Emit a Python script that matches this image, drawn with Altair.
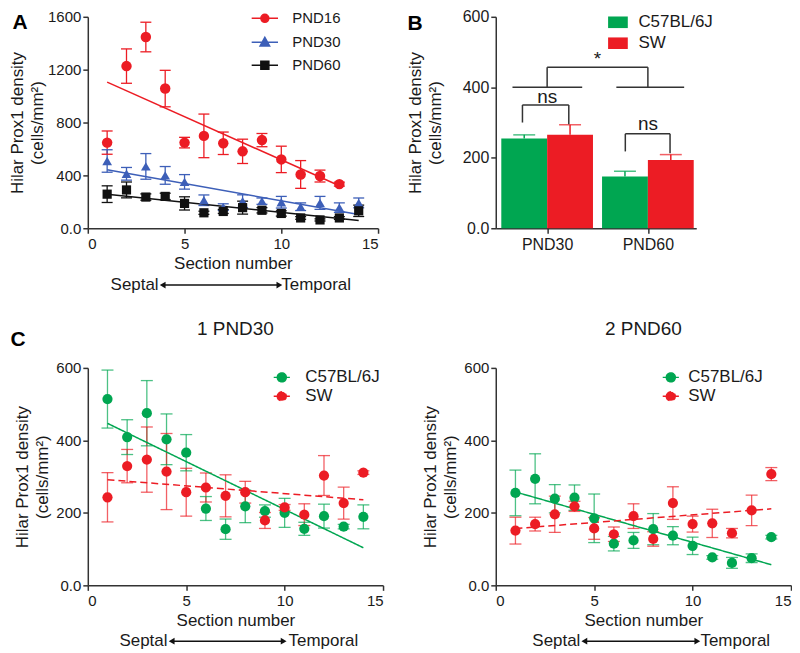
import altair as alt
import pandas as pd

FONT = "Liberation Sans"
TXT = "#1a1a1a"
AXC = "#333333"
RED = "#ec1c24"
GREEN = "#00a651"
BLUE = "#3d5fb8"
BLACK = "#111111"

# ---------------- data ----------------
sections = list(range(1, 15))

a_series = ["PND16", "PND30", "PND60"]
pnd16_mean = [648, 1227, 1447, 1057, 648, 699, 643, 582, 667, 521, 407, 395, 334]
pnd16_sem = [88, 130, 112, 138, 40, 165, 85, 92, 50, 100, 105, 45, 15]
pnd30_mean = [509, 412, 468, 400, 351, 212, 160, 205, 205, 197, 163, 192, 156, 192]
pnd30_sem = [85, 48, 97, 67, 55, 40, 25, 48, 24, 44, 29, 49, 36, 37]
pnd60_mean = [258, 290, 236, 241, 188, 117, 127, 156, 136, 112, 78, 63, 78, 132]
pnd60_sem = [63, 60, 24, 24, 50, 12, 15, 49, 20, 20, 10, 8, 10, 43]

b_groups = ["PND30", "PND60"]
b_strains = ["C57BL/6J", "SW"]
b_c57_mean = [255, 147]
b_c57_sem = [10, 15]
b_sw_mean = [265, 194]
b_sw_sem = [29, 15]

# significance annotations of panel B (data units)
b_br_x = [0.656, 1.687, 1.0, 2.0, 1.0, 0.755, 1.215, 0.755, 1.776, 2.22, 1.776]
b_br_x2 = [1.348, 2.36, 1.0, 2.0, 2.0, 0.755, 1.215, 1.215, 1.776, 2.22, 2.22]
b_br_y = [400, 400, 400, 400, 457, 300, 295, 350, 218, 213, 268]
b_br_y2 = [400, 400, 457, 457, 457, 350, 350, 350, 268, 268, 268]
b_sig_x = [1.0, 2.0, 1.5]
b_sig_y = [373, 296, 480]
b_sig_text = ["ns", "ns", "*"]

c_strains = ["C57BL/6J", "SW"]
c1_c57_mean = [514, 409, 475, 403, 366, 212, 155, 218, 205, 200, 156, 191, 162, 189]
c1_c57_sem = [80, 48, 90, 70, 50, 33, 28, 45, 17, 40, 18, 33, 6, 33]
c1_sw_mean = [243, 329, 347, 314, 257, 270, 247, 257, 179, 215, 195, 303, 227, 311]
c1_sw_sem = [68, 46, 90, 105, 66, 40, 58, 30, 22, 8, 30, 55, 44, 5]
c2_c57_mean = [255, 294, 239, 242, 185, 115, 124, 155, 137, 109, 77, 62, 75, 133]
c2_c57_sem = [63, 69, 39, 35, 67, 20, 22, 43, 25, 24, 5, 15, 12, 5]
c2_sw_mean = [151, 169, 196, 218, 157, 141, 191, 128, 227, 169, 171, 144, 207, 307]
c2_sw_sem = [37, 19, 50, 14, 30, 20, 34, 20, 45, 22, 39, 13, 42, 18]

Y_TITLE = ["Hilar Prox1 density", "(cells/mm²)"]

# ---------------- layout ----------------
W_A, H_A = 291, 212
W_B = 201
W_C, H_C = 296, 218


def long_df(names, means, sems):
    rows = []
    for name, m, s in zip(names, means, sems):
        for i, (mv, sv) in enumerate(zip(m, s)):
            rows.append({"series": name, "section": sections[i], "mean": mv,
                         "sem": sv, "lo": mv - sv, "hi": mv + sv})
    return pd.DataFrame(rows)


def X():
    return alt.X("section:Q",
                 scale=alt.Scale(domain=[0, 15], nice=False, zero=False),
                 axis=alt.Axis(values=[0, 5, 10, 15], title="Section number",
                               titlePadding=4, labelPadding=3))


def Y(field, ymax, step, label_size, title_pad):
    return alt.Y(f"{field}:Q",
                 scale=alt.Scale(domain=[0, ymax], nice=False),
                 axis=alt.Axis(values=list(range(0, ymax + 1, step)), format="d",
                               labelExpr="datum.value == 0 ? '0.0' : datum.label",
                               title=Y_TITLE, titlePadding=title_pad,
                               labelFontSize=label_size, labelPadding=2))


def septal_layers(xdef, H, off, sep_x, arr0, arr1, temp_x):
    yv = alt.value(H + off)
    t1 = alt.Chart(pd.DataFrame({"section": [sep_x], "t": ["Septal"]})).mark_text(
        align="right", baseline="middle", fontSize=17, font=FONT, color=TXT
    ).encode(x=xdef, y=yv, text="t:N")
    t2 = alt.Chart(pd.DataFrame({"section": [temp_x], "t": ["Temporal"]})).mark_text(
        align="left", baseline="middle", fontSize=17, font=FONT, color=TXT
    ).encode(x=xdef, y=yv, text="t:N")
    arrow_df = pd.DataFrame({"section": [arr0], "end": [arr1]})
    r = alt.Chart(arrow_df).mark_rule(color=BLACK, strokeWidth=1.5).encode(
        x=xdef, x2="end:Q", y=yv)
    h1 = alt.Chart(pd.DataFrame({"section": [arr0]})).mark_point(
        shape="triangle-left", filled=True, size=45, color=BLACK, opacity=1
    ).encode(x=xdef, y=yv)
    h2 = alt.Chart(pd.DataFrame({"section": [arr1]})).mark_point(
        shape="triangle-right", filled=True, size=45, color=BLACK, opacity=1
    ).encode(x=xdef, y=yv)
    return [r, h1, h2, t1, t2]


def letter(text, x, y):
    return alt.Chart(pd.DataFrame({"t": [text]})).mark_text(
        fontSize=21, fontWeight="bold", font=FONT, color="#000000",
        align="center", baseline="middle"
    ).encode(x=alt.value(x), y=alt.value(y), text="t:N")


def err_layers(df, xdef, yfun, color_enc, cap, width, opacity):
    stem = alt.Chart(df).mark_rule(strokeWidth=width, opacity=opacity).encode(
        x=xdef, y=yfun("lo"), y2="hi:Q", color=color_enc)
    c1 = alt.Chart(df).mark_tick(orient="horizontal", size=cap, thickness=width,
                                 opacity=opacity).encode(x=xdef, y=yfun("lo"), color=color_enc)
    c2 = alt.Chart(df).mark_tick(orient="horizontal", size=cap, thickness=width,
                                 opacity=opacity).encode(x=xdef, y=yfun("hi"), color=color_enc)
    return [stem, c1, c2]


# ---------------- panel A ----------------
dfA = long_df(a_series, [pnd16_mean, pnd30_mean, pnd60_mean],
              [pnd16_sem, pnd30_sem, pnd60_sem])
colA = alt.Color("series:N", scale=alt.Scale(domain=a_series, range=[RED, BLUE, BLACK]),
                 legend=None)
xA = X()


def yA(f):
    return Y(f, 1600, 400, 15, 1)


regA = alt.Chart(dfA).transform_regression(
    "section", "mean", groupby=["series"]
).mark_line(strokeWidth=1.5).encode(x=xA, y=yA("mean"), color=colA)

shapesA = ["circle", "triangle-up", "square"]
sizesA = [110, 95, 85]
ptsA = [
    alt.Chart(dfA).transform_filter(alt.datum.series == s).mark_point(
        filled=True, opacity=1, shape=sh, size=sz
    ).encode(x=xA, y=yA("mean"), color=colA)
    for s, sh, sz in zip(a_series, shapesA, sizesA)
]

legA_def = alt.Legend(
    orient="none", legendX=170, legendY=-6, title=None, padding=0,
    labelFont=FONT, labelFontSize=15, labelColor=TXT, labelOffset=20,
    symbolSize=64, symbolStrokeWidth=1.5, symbolOpacity=1, rowPadding=7,
)
paths = {
    "circle": "M-3.3,0H3.3M-1,0A1,1,0,1,1,1,0A1,1,0,1,1,-1,0Z",
    "tri": "M-3.3,0H3.3M0,-1.25L1.2,0.95H-1.2Z",
    "sq": "M-3.3,0H3.3M-1,-1H1V1H-1Z",
}
# legend-only layer: no marks are drawn (all rows filtered out), the scales give the legend
legA = alt.Chart(pd.DataFrame({"series": a_series})).transform_filter("false").mark_point(
    filled=True).encode(
    fill=alt.Fill("series:N", scale=alt.Scale(domain=a_series, range=[RED, BLUE, BLACK]),
                  legend=legA_def),
    stroke=alt.Stroke("series:N", scale=alt.Scale(domain=a_series, range=[RED, BLUE, BLACK]),
                      legend=legA_def),
    shape=alt.Shape("series:N", scale=alt.Scale(domain=a_series,
                                                range=[paths["circle"], paths["tri"], paths["sq"]]),
                    legend=legA_def),
)

panelA = alt.layer(
    legA,
    *err_layers(dfA, xA, yA, colA, 11, 1.3, 1.0),
    regA, *ptsA,
    *septal_layers(xA, H_A, 57, 3.66, 3.87, 9.9, 10.0),
    letter("A", -68, 6),
).properties(width=W_A, height=H_A)

# ---------------- panel B ----------------
BAR_HALF = 0.455
rowsB = []
for gi, g in enumerate(b_groups):
    for s, m, e in zip(b_strains, [b_c57_mean[gi], b_sw_mean[gi]], [b_c57_sem[gi], b_sw_sem[gi]]):
        center = gi + 1
        if s == b_strains[0]:
            x0, x1 = center - BAR_HALF, center
        else:
            x0, x1 = center, center + BAR_HALF
        rowsB.append({"group": g, "strain": s, "x0": x0, "x1": x1, "xm": (x0 + x1) / 2,
                      "mean": m, "base": 0, "hi": m + e})
dfB = pd.DataFrame(rowsB)

label_expr_B = "[" + ",".join(f"'{g}'" for g in b_groups) + "][datum.value - 1]"


def xBf(f):
    return alt.X(f"{f}:Q", scale=alt.Scale(domain=[0.49, 2.48], nice=False, zero=False),
                 axis=alt.Axis(values=[1, 2], labelExpr=label_expr_B, title=None,
                               labelPadding=3, labelFontSize=16))


def yB(f):
    return Y(f, 600, 200, 16, 18)


colB = alt.Color("strain:N", scale=alt.Scale(domain=b_strains, range=[GREEN, RED]),
                 legend=alt.Legend(
                     orient="none", legendX=114, legendY=-3, title=None, padding=0,
                     labelFont=FONT, labelFontSize=17, labelColor=TXT, labelOffset=12,
                     symbolType="M-1.7,-1H1.7V1H-1.7Z", symbolSize=135,
                     symbolStrokeWidth=0, rowPadding=3, symbolOpacity=1))
colB_nl = alt.Color("strain:N", scale=alt.Scale(domain=b_strains, range=[GREEN, RED]),
                    legend=None)

barsB = alt.Chart(dfB).mark_bar(opacity=1).encode(
    x=xBf("x0"), x2="x1:Q", y=yB("mean"), y2="base:Q", color=colB)
errB = alt.Chart(dfB).mark_rule(strokeWidth=1.5).encode(
    x=xBf("xm"), y=yB("mean"), y2="hi:Q", color=colB_nl)
capB = alt.Chart(dfB).mark_tick(orient="horizontal", size=22, thickness=1.5).encode(
    x=xBf("xm"), y=yB("hi"), color=colB_nl)

brB = alt.Chart(pd.DataFrame({"bx": b_br_x, "bx2": b_br_x2, "by": b_br_y, "by2": b_br_y2})
                ).mark_rule(color=AXC, strokeWidth=1.5).encode(
    x=xBf("bx"), x2="bx2:Q", y=yB("by"), y2="by2:Q")
sigB = alt.Chart(pd.DataFrame({"sx": b_sig_x, "sy": b_sig_y, "t": b_sig_text})).mark_text(
    fontSize=19, font=FONT, color=TXT, baseline="middle", align="center"
).encode(x=xBf("sx"), y=yB("sy"), text="t:N")

panelB = alt.layer(barsB, errB, capB, brB, sigB, letter("B", -81, 7)).properties(
    width=W_B, height=H_A)


# ---------------- panel C ----------------
def panel_c(c57_mean, c57_sem, sw_mean, sw_sem, title, leg_x, lab_off, sept, with_letter):
    df = long_df(c_strains, [c57_mean, sw_mean], [c57_sem, sw_sem])
    col = alt.Color("series:N", scale=alt.Scale(domain=c_strains, range=[GREEN, RED]),
                    legend=None)
    xd = X()

    def yd(f):
        return Y(f, 600, 200, 15, 4)

    reg = alt.Chart(df).transform_regression(
        "section", "mean", groupby=["series"]
    ).mark_line(strokeWidth=1.5).encode(
        x=xd, y=yd("mean"), color=col,
        strokeDash=alt.StrokeDash("series:N", scale=alt.Scale(domain=c_strains,
                                                              range=[[1, 0], [7, 4]]),
                                  legend=None))
    pts = alt.Chart(df).mark_point(filled=True, opacity=1, shape="circle", size=105).encode(
        x=xd, y=yd("mean"), color=col)
    leg_def = alt.Legend(
        orient="none", legendX=leg_x, legendY=1, title=None, padding=0,
        labelFont=FONT, labelFontSize=17, labelColor=TXT, labelOffset=lab_off,
        symbolType="M-1.8,0H1.8M-1,0A1,1,0,1,1,1,0A1,1,0,1,1,-1,0Z",
        symbolSize=81, symbolStrokeWidth=1.5, symbolOpacity=1, rowPadding=1)
    leg = alt.Chart(pd.DataFrame({"series": c_strains})).transform_filter("false").mark_point(
        filled=True).encode(
        fill=alt.Fill("series:N", scale=alt.Scale(domain=c_strains, range=[GREEN, RED]),
                      legend=leg_def),
        stroke=alt.Stroke("series:N", scale=alt.Scale(domain=c_strains, range=[GREEN, RED]),
                          legend=leg_def),
    )
    ttl = alt.Chart(pd.DataFrame({"t": [title]})).mark_text(
        fontSize=19, font=FONT, color=TXT, align="center", baseline="middle"
    ).encode(x=alt.value(W_C / 2), y=alt.value(-39), text="t:N")
    layers = [leg, *err_layers(df, xd, yd, col, 12, 1.3, 0.7), reg, pts, ttl,
              *septal_layers(xd, H_C, 56, *sept)]
    if with_letter:
        layers.append(letter("C", -70, -28))
    return alt.layer(*layers).properties(width=W_C, height=H_C)


panelC1 = panel_c(c1_c57_mean, c1_c57_sem, c1_sw_mean, c1_sw_sem, "1 PND30",
                  186, 15, (4.05, 4.26, 9.95, 10.2), True)
panelC2 = panel_c(c2_c57_mean, c2_c57_sem, c2_sw_mean, c2_sw_sem, "2 PND60",
                  167, 9, (4.3, 4.5, 10.24, 10.4), False)

chart = alt.concat(
    panelA, panelB, panelC1, panelC2, columns=2,
    spacing={"row": 140, "column": 113}, bounds="flush",
).resolve_scale(
    x="independent", y="independent", color="independent", fill="independent",
    stroke="independent", shape="independent", strokeDash="independent",
).resolve_legend(
    color="independent", fill="independent", stroke="independent", shape="independent",
).properties(padding=0).configure_view(stroke=None).configure_axis(
    grid=False, domainColor=AXC, domainWidth=1.5, tickColor=AXC, tickWidth=1.5,
    tickSize=5, labelFont=FONT, titleFont=FONT, labelColor=TXT, titleColor=TXT,
    titleFontWeight="normal", titleFontSize=17, labelFontSize=15,
).configure_axisY(titleFontSize=17, titleLineHeight=20).configure_text(font=FONT)

chart.save("out.html", embed_options={"renderer": "svg", "actions": False})
